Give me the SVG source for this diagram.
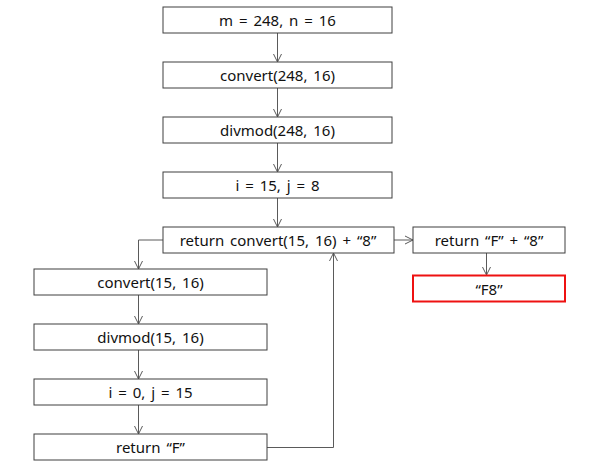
<svg xmlns="http://www.w3.org/2000/svg" width="600" height="470" viewBox="0 0 600 470">
<style>
.box{fill:#fff;stroke:#3f3f3f;stroke-width:1}
.red{fill:#fff;stroke:#ee1111;stroke-width:2}
.t{font-family:"Noto Sans","Noto Sans CJK KR",sans-serif;font-size:15px;word-spacing:2px;fill:#111;text-anchor:middle;dominant-baseline:central}
.c{fill:none;stroke:#5a5a5a;stroke-width:1}
</style>
<defs>
<marker id="a" markerWidth="10" markerHeight="10" refX="9" refY="5" orient="auto" markerUnits="userSpaceOnUse">
<path d="M1,1 L9,5 L1,9" fill="none" stroke="#5a5a5a" stroke-width="1"/>
</marker>
</defs>
<g id="connectors">
<line class="c" x1="277.5" y1="33" x2="277.5" y2="62" marker-end="url(#a)"/>
<line class="c" x1="277.5" y1="88" x2="277.5" y2="117" marker-end="url(#a)"/>
<line class="c" x1="277.5" y1="143" x2="277.5" y2="172" marker-end="url(#a)"/>
<line class="c" x1="277.5" y1="198" x2="277.5" y2="227" marker-end="url(#a)"/>
<polyline class="c" points="163,240 138.5,240 138.5,269" marker-end="url(#a)"/>
<line class="c" x1="138.5" y1="295" x2="138.5" y2="324" marker-end="url(#a)"/>
<line class="c" x1="138.5" y1="350" x2="138.5" y2="379" marker-end="url(#a)"/>
<line class="c" x1="138.5" y1="405" x2="138.5" y2="434" marker-end="url(#a)"/>
<polyline class="c" points="267,447.5 333.5,447.5 333.5,253" marker-end="url(#a)"/>
<line class="c" x1="394" y1="240" x2="413" y2="240" marker-end="url(#a)"/>
<line class="c" x1="486.5" y1="253" x2="486.5" y2="275" marker-end="url(#a)"/>
</g>
<g id="n1"><rect class="box" x="163" y="7" width="229" height="26"/><text class="t" x="277.5" y="20">m = 248, n = 16</text></g>
<g id="n2"><rect class="box" x="163" y="62" width="229" height="26"/><text class="t" x="277.5" y="75">convert(248, 16)</text></g>
<g id="n3"><rect class="box" x="163" y="117" width="229" height="26"/><text class="t" x="277.5" y="130">divmod(248, 16)</text></g>
<g id="n4"><rect class="box" x="163" y="172" width="229" height="26"/><text class="t" x="277.5" y="185">i = 15, j = 8</text></g>
<g id="n5"><rect class="box" x="163" y="227" width="231" height="26"/><text class="t" x="278" y="240">return convert(15, 16) + “8”</text></g>
<g id="n6"><rect class="box" x="413" y="227" width="152" height="26"/><text class="t" x="489" y="240">return “F” + “8”</text></g>
<g id="n7"><rect class="red" x="413" y="275.5" width="152" height="26"/><text class="t" x="489" y="288.5">“F8”</text></g>
<g id="n8"><rect class="box" x="34" y="269" width="233" height="26"/><text class="t" x="150.5" y="282">convert(15, 16)</text></g>
<g id="n9"><rect class="box" x="34" y="324" width="233" height="26"/><text class="t" x="150.5" y="337">divmod(15, 16)</text></g>
<g id="n10"><rect class="box" x="34" y="379" width="233" height="26"/><text class="t" x="150.5" y="392">i = 0, j = 15</text></g>
<g id="n11"><rect class="box" x="34" y="434" width="233" height="26"/><text class="t" x="150.5" y="447">return “F”</text></g>
</svg>
